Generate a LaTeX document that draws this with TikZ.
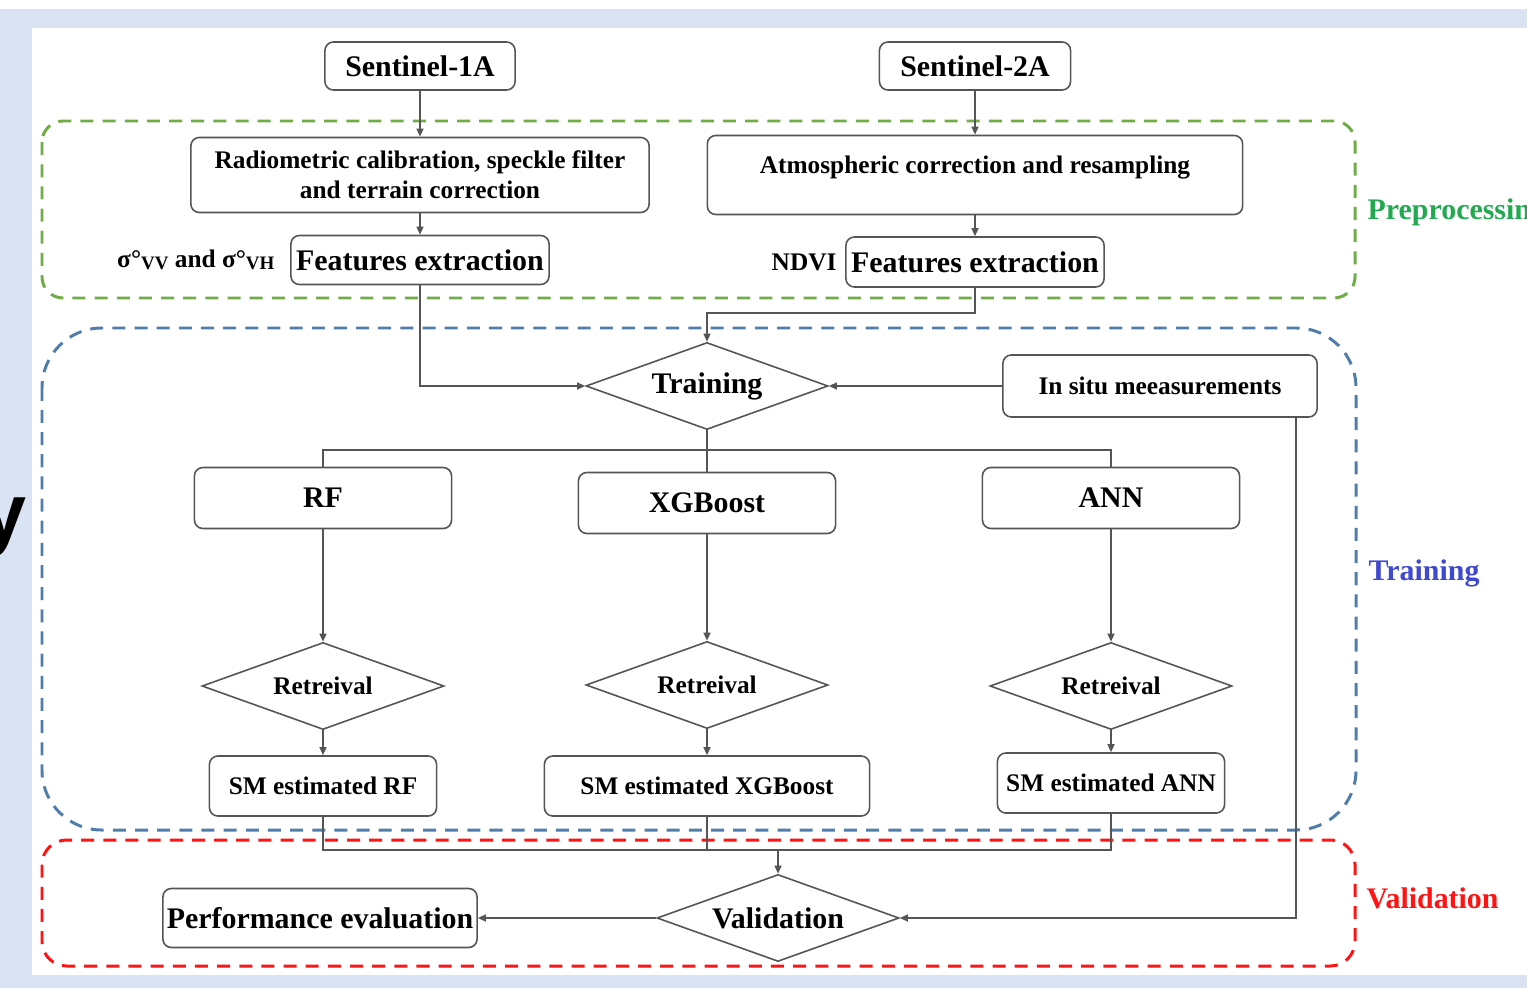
\documentclass[tikz,border=0pt]{standalone}
\usepackage{fontspec}
\setmainfont{Liberation Serif}
\setsansfont{Liberation Sans}
\usepackage{tikz}
\usetikzlibrary{arrows.meta,positioning,calc,shapes.geometric}
\definecolor{slide blue}{RGB}{218,227,243}
\definecolor{prep green}{RGB}{112,173,71}
\definecolor{prep text}{RGB}{35,170,80}
\definecolor{train blue}{RGB}{80,126,172}
\definecolor{train text}{RGB}{62,72,208}
\definecolor{valid red}{RGB}{255,20,20}
\definecolor{line gray}{RGB}{85,85,85}
\newcommand{\polsub}[1]{\raisebox{-0.6pt}{\fontsize{5.4}{6}\selectfont #1}}
\tikzset{
    big font/.style={font=\fontsize{8.5}{10}\selectfont\bfseries},
    small font/.style={font=\fontsize{7.2}{8.5}\selectfont\bfseries},
    process/.style={draw=line gray,line width=0.45pt,rounded corners=2.4pt,fill=white,inner sep=0pt,align=center},
    decision/.style={diamond,aspect=2.8,draw=line gray,line width=0.45pt,fill=white,inner sep=0pt,minimum width=2.42cm,minimum height=0.87cm},
    side label/.style={inner sep=0pt,anchor=base west},
    conn/.style={line gray,line width=0.43pt},
    arr/.style={conn,-{Triangle[length=2.3pt,width=2pt]}},
    region/.style={dash pattern=on 3.7pt off 2.6pt,line width=0.85pt},
}

\begin{document}
\begin{tikzpicture}[x=0.01cm,y=-0.01cm]
    \useasboundingbox (0,0) rectangle (1527,988);
    \fill[slide blue] (0,9) rectangle (1527,988);
    \fill[white] (32,28) rectangle (1527,975);
    \node[font=\fontsize{23}{23}\selectfont\sffamily\bfseries,anchor=base east,inner sep=0pt] (cut y) at (27,540) {y};

    \draw[region,prep green,rounded corners=6pt] (42,121) rectangle (1355,298);
    \draw[region,train blue,rounded corners=17pt] (42,328) rectangle (1356,830);
    \draw[region,valid red,rounded corners=7pt] (42,840) rectangle (1355,966);
    \node[side label,big font,text=prep text] (prep label) at (1367,220) {Preprocessing};
    \node[side label,big font,text=train text] (train label) at (1368,580) {Training};
    \node[side label,big font,text=valid red] (valid label) at (1366,908) {Validation};

    \node[process,big font,minimum width=1.90cm,minimum height=0.48cm] (s1) at (420,66) {Sentinel-1A};
    \node[process,big font,minimum width=1.91cm,minimum height=0.48cm] (s2) at (975,66) {Sentinel-2A};
    \node[process,small font,minimum width=4.58cm,minimum height=0.75cm] (rad) at (420,175) {Radiometric calibration, speckle filter\\and terrain correction};
    \node[process,small font,minimum width=5.35cm,minimum height=0.79cm,text depth=0.2cm] (atm) at (975,175) {Atmospheric correction and resampling};
    \node[process,big font,minimum width=2.58cm,minimum height=0.49cm] (fe1) at (420,260) {Features extraction};
    \node[process,big font,minimum width=2.58cm,minimum height=0.50cm] (fe2) at (975,262) {Features extraction};
    \node[small font,inner sep=0pt,left=0.15cm of fe1] (sigma) {σ°\polsub{VV} and σ°\polsub{VH}};
    \node[small font,inner sep=0pt,left=0.08cm of fe2] (ndvi) {NDVI};

    \node[decision,big font] (train) at (707,386) {Training};
    \node[process,small font,minimum width=3.14cm,minimum height=0.62cm] (insitu) at (1160,386) {In situ meeasurements};
    \node[process,big font,minimum width=2.57cm,minimum height=0.61cm] (rf) at (323,498) {RF};
    \node[process,big font,minimum width=2.57cm,minimum height=0.61cm] (xgb) at (707,503) {XGBoost};
    \node[process,big font,minimum width=2.57cm,minimum height=0.61cm] (ann) at (1111,498) {ANN};
    \node[decision,small font] (ret rf) at (323,686) {Retreival};
    \node[decision,small font] (ret xgb) at (707,685) {Retreival};
    \node[decision,small font] (ret ann) at (1111,686) {Retreival};
    \node[process,small font,minimum width=2.27cm,minimum height=0.60cm] (sm rf) at (323,786) {SM estimated RF};
    \node[process,small font,minimum width=3.25cm,minimum height=0.60cm] (sm xgb) at (707,786) {SM estimated XGBoost};
    \node[process,small font,minimum width=2.27cm,minimum height=0.60cm] (sm ann) at (1111,783) {SM estimated ANN};
    \node[decision,big font] (valid) at (778,918) {Validation};
    \node[process,big font,minimum width=3.14cm,minimum height=0.59cm] (perf) at (320,918) {Performance evaluation};

    \coordinate (fe2 turn) at (707,313);
    \coordinate (split) at (707,450);
    \coordinate (join) at (778,850);

    \draw[arr] (s1) -- (rad);
    \draw[arr] (s2) -- (atm);
    \draw[arr] (rad) -- (fe1);
    \draw[arr] (atm) -- (fe2);
    \draw[arr] (fe1) |- (train);
    \draw[arr] (fe2) |- (fe2 turn) -- (train);
    \draw[arr] (insitu) -- (train);
    \draw[conn] (train) -- (xgb);
    \draw[conn] (rf) |- (split) -| (ann);
    \draw[arr] (rf) -- (ret rf);
    \draw[arr] (xgb) -- (ret xgb);
    \draw[arr] (ann) -- (ret ann);
    \draw[arr] (ret rf) -- (sm rf);
    \draw[arr] (ret xgb) -- (sm xgb);
    \draw[arr] (ret ann) -- (sm ann);
    \draw[conn] (sm rf) |- (join) -| (sm ann);
    \draw[conn] (sm xgb) -- (sm xgb |- join);
    \draw[arr] (join) -- (valid);
    \draw[arr] (valid) -- (perf);
    \draw[arr] ([xshift=-0.22cm]insitu.south east) |- (valid);
\end{tikzpicture}
\end{document}
